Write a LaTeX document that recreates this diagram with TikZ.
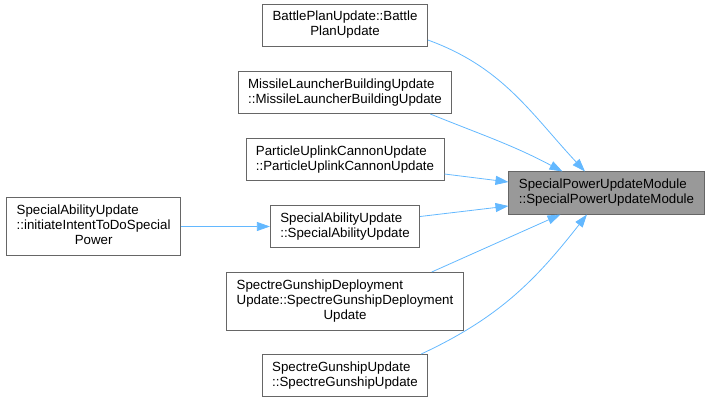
\documentclass[tikz,border=0pt]{standalone}
\usepackage{fontspec}
\setmainfont{Liberation Sans}
\usetikzlibrary{arrows.meta,positioning}
\definecolor{edgeblue}{HTML}{63B8FF}
\definecolor{boxline}{HTML}{666666}
\definecolor{mainfill}{HTML}{999999}
\newcommand{\lastcentered}[2]{\begin{tabular}{@{}l@{}}#1\\\multicolumn{1}{@{}c@{}}{#2}\end{tabular}}
\tikzset{
func/.style={draw=boxline,line width=.8pt,fill=white,minimum height=42.2pt,inner xsep=10pt,inner ysep=2pt,align=left,font=\fontsize{13.3}{15}\selectfont},
tall/.style={minimum height=58.2pt},
current/.style={func,fill=mainfill},
flow/.style={-{Triangle[length=13pt,width=9pt]},draw=edgeblue,line width=.8pt}
}
\begin{document}
\begin{tikzpicture}[x=1pt,y=-1pt,node distance=24pt]
\useasboundingbox(0,0)rectangle(709,403);
\node[func](bp)at(345,25.5){\lastcentered{BattlePlanUpdate::Battle}{PlanUpdate}};
\node[func,below=of bp](ml){MissileLauncherBuildingUpdate\\::MissileLauncherBuildingUpdate};
\node[func,below=of ml](part){ParticleUplinkCannonUpdate\\::ParticleUplinkCannonUpdate};
\node[func,below=of part](sab){SpecialAbilityUpdate\\::SpecialAbilityUpdate};
\node[func,tall,below=of sab](dep){\lastcentered{SpectreGunshipDeployment\\Update::SpectreGunshipDeployment}{Update}};
\node[func,below=23pt of dep](gs){SpectreGunshipUpdate\\::SpectreGunshipUpdate};
\node[func,tall,left=89pt of sab](init){\lastcentered{SpecialAbilityUpdate\\::initiateIntentToDoSpecial}{Power}};
\node[current](main)at(606.5,193){SpecialPowerUpdateModule\\::SpecialPowerUpdateModule};
\draw[flow]([yshift=7pt]bp.south east)to[out=-20,in=133]([xshift=-21.5pt]main.north);
\draw[flow]([xshift=-22pt]ml.south east)to[out=-22,in=152]([xshift=-44pt]main.north);
\draw[flow]([yshift=7pt]part.south east)--([yshift=11pt]main.west);
\draw[flow]([yshift=10pt]sab.east)--([yshift=-13pt]main.west);
\draw[flow]([xshift=-32pt]dep.north east)--([xshift=-46pt]main.south);
\draw[flow]([xshift=-7pt]gs.north east)to[out=25,in=-128]([xshift=-19.5pt]main.south);
\draw[flow](init)--(sab);
\end{tikzpicture}
\end{document}
